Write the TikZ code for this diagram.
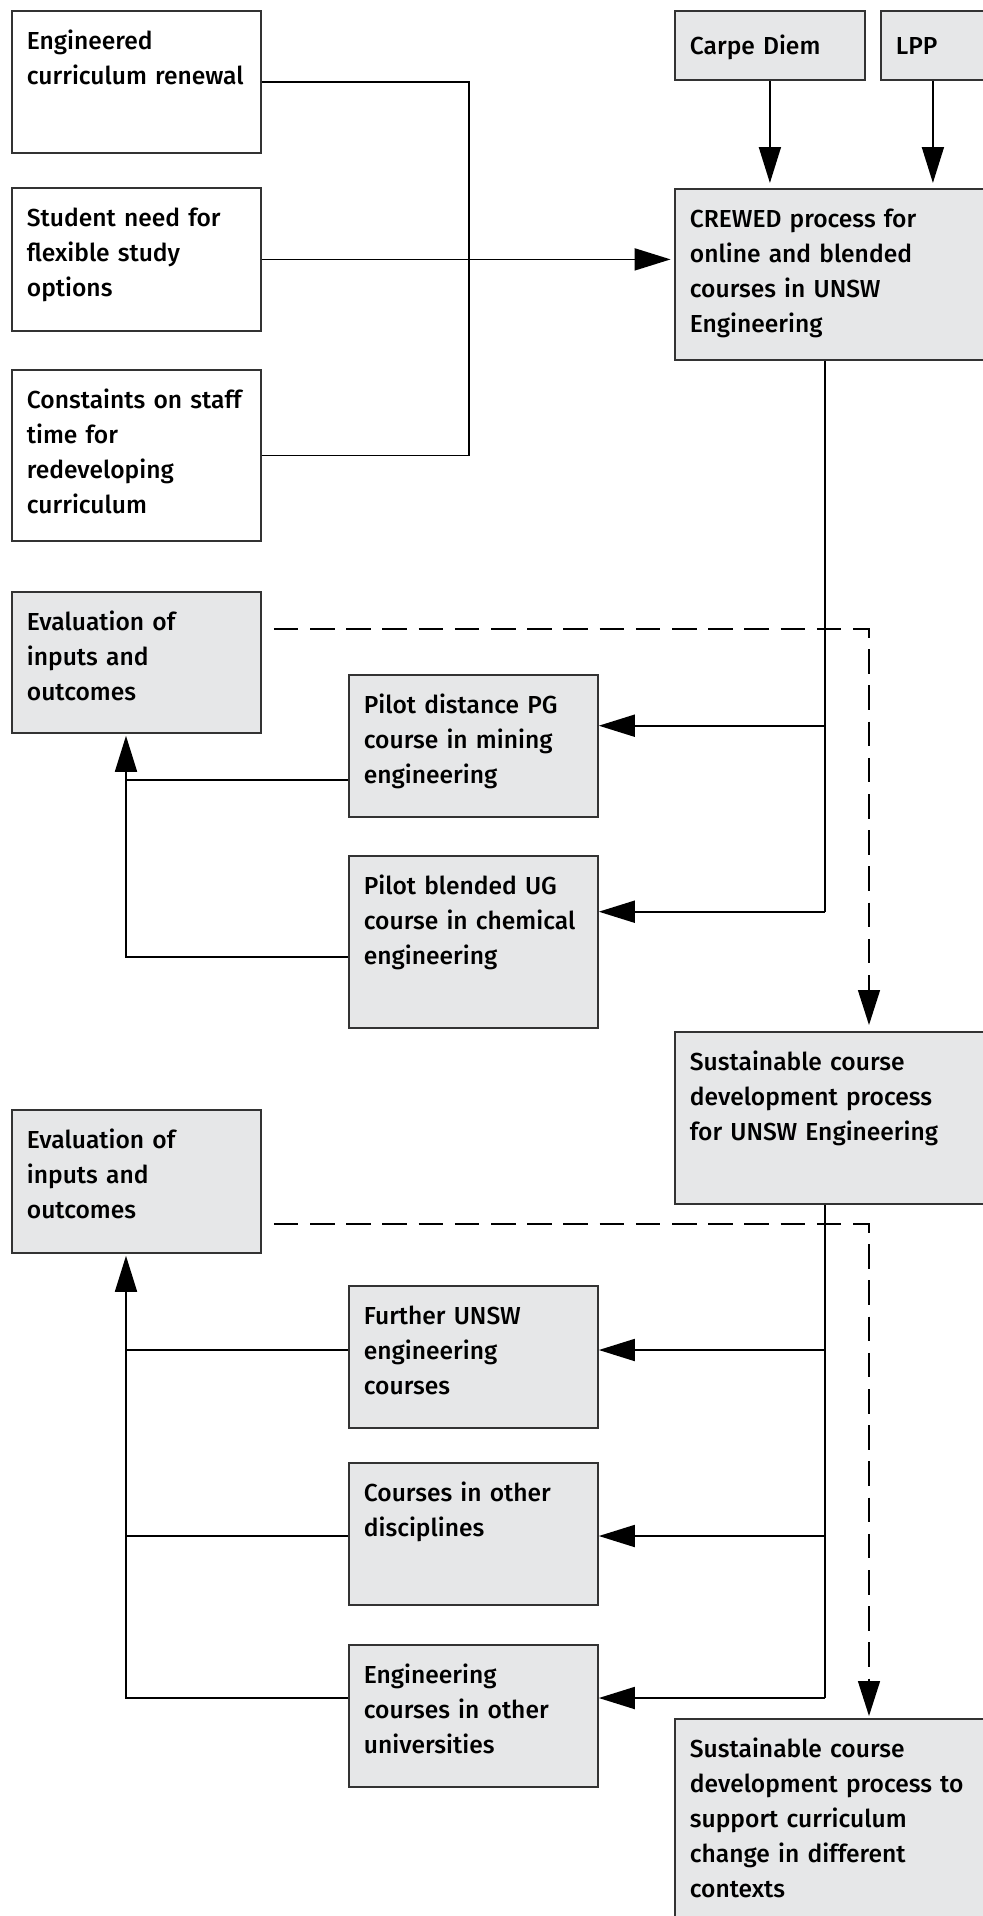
\documentclass[tikz,border=0pt]{standalone}
\usepackage{fontspec}
\setmainfont{Fira Sans}[UprightFont=* Medium]
\usetikzlibrary{arrows.meta}
\definecolor{boxgray}{HTML}{E6E7E8}
\begin{document}
\begin{tikzpicture}[x=0.5pt,y=-0.5pt,
  base/.style={draw=black!80, line width=0.9pt, anchor=north west, inner xsep=7.5pt, inner ysep=0pt,
    align=left, font=\fontsize{12.3}{17.5}\selectfont, text height=19.5pt},
  plainbox/.style={base, fill=white},
  greybox/.style={base, fill=boxgray},
  conn/.style={line width=0.9pt},
  arr/.style={conn, -{Triangle[length=18pt,width=11pt]}},
  dsh/.style={line width=0.75pt, dash pattern=on 12.3pt off 5.8pt, -{Triangle[length=17.5pt,width=11pt]}},
]
\useasboundingbox (0,0) rectangle (982,1916);
% boxes
\node[plainbox, text width=109.5pt, text depth=51.5pt] (b1) at (11,10) {Engineered\\ \mbox{curriculum renewal}};
\node[plainbox, text width=109.5pt, text depth=52pt] (b2) at (11,187) {Student need for\\flexible study\\options};
\node[plainbox, text width=109.5pt, text depth=66pt] (b3) at (11,369) {Constaints on staff\\time for\\redeveloping\\curriculum};
\node[greybox, text width=80pt, text height=22pt, text depth=12.5pt] (carpe) at (674,10) {Carpe Diem};
\node[greybox, text width=37pt, text height=22pt, text depth=12.5pt] (lpp) at (880,10) {LPP};
\node[greybox, text width=143pt, text depth=66pt] (crewed) at (674,188) {CREWED process for\\online and blended\\courses in UNSW\\Engineering};
\node[greybox, text width=109.5pt, text depth=51pt] (eval1) at (11,591) {Evaluation of\\inputs and\\outcomes};
\node[greybox, text width=109.5pt, text depth=51.5pt] (pilot1) at (348,674) {Pilot distance PG\\course in mining\\engineering};
\node[greybox, text width=109.5pt, text depth=66.5pt] (pilot2) at (348,855) {Pilot blended UG\\ \mbox{course in chemical}\\engineering};
\node[greybox, text width=143pt, text depth=66.5pt] (sus1) at (674,1031) {Sustainable course\\development process\\ \mbox{for UNSW Engineering}};
\node[greybox, text width=109.5pt, text depth=52pt] (eval2) at (11,1109) {Evaluation of\\inputs and\\outcomes};
\node[greybox, text width=109.5pt, text depth=51.5pt] (further) at (348,1285) {Further UNSW\\engineering\\courses};
\node[greybox, text width=109.5pt, text depth=51.5pt] (other) at (348,1462) {Courses in other\\disciplines};
\node[greybox, text width=109.5pt, text depth=51.5pt] (eng) at (348,1644) {Engineering\\courses in other\\universities};
\node[greybox, text width=143pt, text depth=90.5pt] (sus2) at (674,1718) {Sustainable course\\ \mbox{development process to}\\support curriculum\\change in different\\contexts};
% reference coordinates
\coordinate (jx) at (469,0);
\coordinate (cx) at (825,0);
\coordinate (lx) at (126,0);
\coordinate (dx) at (869,0);
\coordinate (y1) at (0,725.7);
\coordinate (y2) at (0,911.7);
\coordinate (o1) at (0,779.7);
\coordinate (o2) at (0,956.7);
\coordinate (y3) at (0,1350);
\coordinate (y4) at (0,1536);
\coordinate (y5) at (0,1698);
\coordinate (d1) at (0,629);
\coordinate (d2) at (0,1224);
% top inputs
\draw[conn] (b1.east) -- (b1.east-|jx) -- (b3.east-|jx) -- (b3.east);
\draw[arr, shorten >=1.7pt] (b2.east) -- (crewed.west|-b2.east);
\draw[arr, shorten >=2.5pt] (carpe.south) -- (carpe.south|-crewed.north);
\draw[arr, shorten >=2.5pt] (lpp.south) -- (lpp.south|-crewed.north);
% crewed to pilots
\draw[conn] (cx|-crewed.south) -- (cx|-y2);
\draw[arr] (cx|-y1) -- (pilot1.east|-y1);
\draw[arr] (cx|-y2) -- (pilot2.east|-y2);
% pilots to evaluation
\draw[conn] (pilot1.west|-o1) -- (lx|-o1);
\draw[arr, shorten >=1pt] (pilot2.west|-o2) -- (lx|-o2) -- (lx|-eval1.south);
% dashed 1
\draw[dsh, shorten >=3pt] ([xshift=6pt]eval1.east|-d1) -- (dx|-d1) -- (dx|-sus1.north);
% sus1 to courses
\draw[conn] (cx|-sus1.south) -- (cx|-y5);
\draw[arr] (cx|-y3) -- (further.east|-y3);
\draw[arr] (cx|-y4) -- (other.east|-y4);
\draw[arr] (cx|-y5) -- (eng.east|-y5);
% courses to evaluation 2
\draw[conn] (further.west|-y3) -- (lx|-y3);
\draw[conn] (other.west|-y4) -- (lx|-y4);
\draw[arr, shorten >=1pt] (eng.west|-y5) -- (lx|-y5) -- (lx|-eval2.south);
% dashed 2
\draw[dsh, shorten >=1pt] ([xshift=6pt]eval2.east|-d2) -- (dx|-d2) -- (dx|-sus2.north);
\end{tikzpicture}
\end{document}
